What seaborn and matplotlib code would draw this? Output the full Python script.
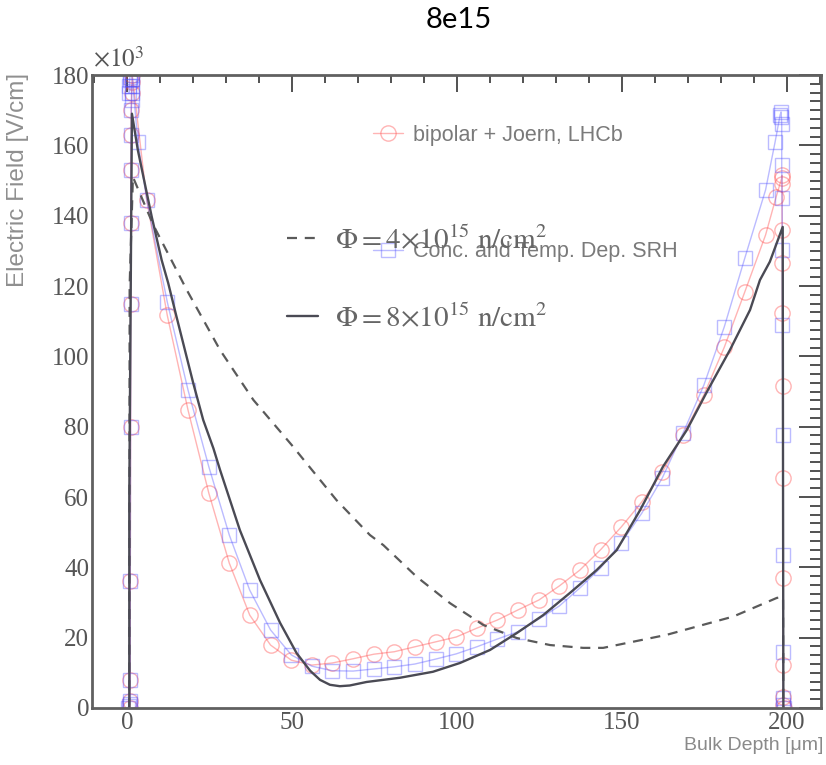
import matplotlib
matplotlib.use("Agg")
import matplotlib.pyplot as plt
from matplotlib.ticker import MultipleLocator, FixedLocator
from matplotlib.lines import Line2D
import seaborn as sns

# ---- data (x in um, E in 10^3 V/cm) ----
bipolar_x = [0.9, 0.9, 1.0, 1.0, 1.1, 1.1, 1.2, 1.2, 1.3, 1.3, 1.4, 1.5, 1.6,
             6.0, 12.2, 18.5, 24.8, 31.0, 37.2, 43.5, 49.8, 56.0, 62.2, 68.5,
             74.8, 81.0, 87.2, 93.5, 99.8, 106.0, 112.2, 118.5, 124.8, 131.0,
             137.2, 143.5, 149.8, 156.0, 162.2, 168.5, 174.8, 181.0, 187.2,
             193.5, 196.7, 198.4, 198.5, 198.5, 198.5, 198.6, 198.6, 198.7,
             198.7, 198.8, 198.8, 198.9, 198.9, 199.0]
bipolar_y = [0.0, 2.0, 8.0, 36.0, 80.0, 115.0, 138.0, 153.0, 163.0, 170.0, 175.0, 178.0, 180.0,
             144.4, 111.7, 84.7, 61.1, 41.2, 26.4, 17.9, 13.6, 12.2, 12.8, 14.0,
             15.3, 16.0, 17.4, 18.8, 20.2, 22.7, 25.0, 27.9, 30.7, 34.7,
             39.2, 45.0, 51.5, 58.6, 67.1, 77.6, 89.0, 102.6, 118.3,
             134.5, 145.3, 150.7, 151.5, 149.0, 136.0, 126.5, 112.3, 91.5,
             65.4, 37.0, 12.2, 3.0, 0.8, 0.0]

srh_x = [0.3, 0.5, 0.9, 0.9, 1.0, 1.0, 1.1, 1.1, 1.2, 1.2, 1.3, 1.3, 1.4, 1.4, 1.5,
         0.6, 0.7, 0.8, 0.9, 1.5, 1.6,
         3.3, 6.0, 12.2, 18.5, 24.8, 31.0, 37.2, 43.5, 49.8, 56.0, 62.2, 68.5,
         74.8, 81.0, 87.2, 93.5, 99.8, 106.0, 112.2, 118.5, 124.8, 131.0,
         137.2, 143.5, 149.8, 156.0, 162.2, 168.5, 174.8, 181.0, 187.2,
         193.5, 196.4, 197.9, 198.2, 198.3, 198.4, 198.4, 198.5, 198.6,
         198.6, 198.7, 198.8, 198.8, 198.9, 198.9, 199.0]
srh_y = [0.0, 0.5, 1.0, 2.0, 8.0, 36.0, 80.0, 115.0, 138.0, 153.0, 163.0, 170.0, 173.0, 175.0, 177.0,
         175.0, 177.0, 178.5, 179.5, 180.0, 179.0,
         161.0, 144.4, 115.5, 90.4, 68.6, 49.2, 33.5, 22.2, 15.1, 11.9, 10.6, 10.5,
         11.1, 11.7, 12.5, 13.9, 15.4, 17.4, 19.6, 21.7, 25.3, 29.0,
         34.1, 39.8, 47.0, 55.4, 65.4, 78.2, 91.8, 108.4, 127.9,
         147.3, 161.0, 168.6, 169.5, 168.0, 166.0, 154.4, 145.0, 130.2,
         108.9, 77.6, 43.5, 15.9, 2.8, 0.9, 0.0]

phi8_x = [0.7, 0.7, 1.5, 3.3, 7.5, 10.5, 12.5, 15.0, 20.1, 23.1, 26.2, 28.2,
          34.2, 40.3, 46.4, 51.4, 55.5, 58.5, 61.5, 64.5, 67.5, 72.6, 82.7,
          92.7, 100.9, 110.0, 118.1, 126.1, 134.2, 142.3, 148.4, 155.5, 162.4,
          169.6, 176.0, 182.7, 188.8, 191.8, 194.8, 198.7, 198.8, 198.9]
phi8_y = [0.0, 60.0, 169.0, 158.6, 139.7, 127.4, 120.8, 111.3, 92.3, 81.9, 73.8, 67.7,
          50.6, 36.4, 24.2, 15.6, 10.6, 8.0, 6.6, 6.2, 6.4, 7.4, 8.6,
          10.3, 12.8, 16.5, 21.3, 26.4, 32.7, 39.2, 44.9, 56.3, 68.6,
          79.0, 90.4, 101.8, 113.2, 121.7, 126.9, 136.8, 60.0, 0.0]

phi4_x = [0.7, 0.8, 1.8, 8.0, 18.1, 28.2, 38.3, 49.9, 54.4, 63.5, 73.6, 77.7,
          87.8, 97.9, 108.0, 118.1, 128.2, 138.2, 144.3, 163.5, 183.7, 196.9,
          198.8, 198.9]
phi4_y = [0.0, 120.0, 151.0, 137.3, 118.9, 101.8, 87.6, 74.8, 69.6, 59.1, 49.2, 46.3,
          37.3, 29.8, 23.6, 19.9, 17.9, 17.1, 17.1, 20.8, 26.0, 31.3,
          31.6, 0.0]

x_major = [0, 50, 100, 150, 200]
y_major = [0, 20, 40, 60, 80, 100, 120, 140, 160, 180]

label_bipolar = "bipolar + Joern, LHCb"
label_srh = "Conc. and Temp. Dep. SRH"
label_phi4 = r"$\Phi = 4{\times}10^{15}\ \mathrm{n/cm}^{2}$"
label_phi8 = r"$\Phi = 8{\times}10^{15}\ \mathrm{n/cm}^{2}$"

# ---- style ----
sns.set_style("white")
plt.rcParams["font.family"] = ["Liberation Sans", "DejaVu Sans"]
plt.rcParams["mathtext.fontset"] = "stix"

W, H = 826, 765
fig = plt.figure(figsize=(W / 100, H / 100), dpi=100)
ax = fig.add_axes([92 / W, 1 - 708 / H, (821 - 92) / W, (708 - 75) / H])

RED = "#ff4d4d"
BLUE = "#4d4dff"
DARK = "#4a4a54"

sns.lineplot(x=bipolar_x, y=bipolar_y, sort=False, estimator=None, ax=ax,
             color=RED, alpha=0.42, lw=1.0, marker="o", markersize=11,
             markerfacecolor="none", markeredgecolor=RED, markeredgewidth=1.0,
             legend=False)
sns.lineplot(x=srh_x, y=srh_y, sort=False, estimator=None, ax=ax,
             color=BLUE, alpha=0.38, lw=1.0, marker="s", markersize=10.5,
             markerfacecolor="none", markeredgecolor=BLUE, markeredgewidth=1.0,
             legend=False)
sns.lineplot(x=phi4_x, y=phi4_y, sort=False, estimator=None, ax=ax,
             color="#5a5a5a", lw=1.6, linestyle=(0, (4.5, 3.5)), legend=False)
sns.lineplot(x=phi8_x, y=phi8_y, sort=False, estimator=None, ax=ax,
             color=DARK, lw=1.7, legend=False)

ax.set_xlim(-10.6, 210.3)
ax.set_ylim(0, 180)
ax.set_xlabel("")
ax.set_ylabel("")

ax.xaxis.set_major_locator(FixedLocator(x_major))
ax.xaxis.set_minor_locator(MultipleLocator(10))
ax.yaxis.set_major_locator(FixedLocator(y_major))
ax.yaxis.set_minor_locator(MultipleLocator(2.5))
ax.set_xticklabels([str(v) for v in x_major])
ax.set_yticklabels([str(v) for v in y_major])

for s in ax.spines.values():
    s.set_color("#606060")
    s.set_linewidth(2.0)

ax.tick_params(which="both", direction="in", top=True, right=True,
               color="#333333", width=1.2)
ax.tick_params(axis="x", which="major", length=12, pad=3)
ax.tick_params(axis="x", which="minor", length=6)
ax.tick_params(axis="y", which="major", length=16, pad=2)
ax.tick_params(axis="y", which="minor", length=8)
for lab in ax.get_xticklabels() + ax.get_yticklabels():
    lab.set_fontfamily("Liberation Serif")
    lab.set_fontsize(18)
    lab.set_color("#555555")

# multiplier
fig.text(93 / W, 1 - 60 / H, r"$\times10^{3}$", fontsize=18, color="#555555",
         ha="left", va="center")

# axis titles
fig.text(18 / W, 1 - 180 / H, "Electric Field [V/cm]", rotation=90,
         fontsize=17.5, color="#8f8f8f", ha="center", va="center")
fig.text(823 / W, 1 - 745 / H, "Bulk Depth [\u03bcm]", fontsize=14,
         color="#8a8a8a", ha="right", va="center")

# title
fig.text(459 / W, 1 - 20 / H, "8e15", fontsize=21, color="black",
         ha="center", va="center", family=["Lato", "DejaVu Sans"])

# legends
h_bip = Line2D([], [], color=RED, alpha=0.42, lw=1.0, marker="o", markersize=11,
               markerfacecolor="none", markeredgewidth=1.0)
h_srh = Line2D([], [], color=BLUE, alpha=0.38, lw=1.0, marker="s", markersize=10.5,
               markerfacecolor="none", markeredgewidth=1.0)
leg1 = ax.legend([h_bip, h_srh], [label_bipolar, label_srh],
                 loc="center left", bbox_to_anchor=(373 / W, 1 - 193.5 / H),
                 bbox_transform=fig.transFigure, frameon=False, fontsize=15.5,
                 labelspacing=4.45, handlelength=1.4, handletextpad=0.45,
                 borderpad=0, borderaxespad=0)
for t in leg1.get_texts():
    t.set_color("#7a7a7a")
ax.add_artist(leg1)

h_p4 = Line2D([], [], color="#5a5a5a", lw=1.6, linestyle=(0, (4.5, 3.5)))
h_p8 = Line2D([], [], color=DARK, lw=1.7)
leg2 = ax.legend([h_p4, h_p8], [label_phi4, label_phi8],
                 loc="center left", bbox_to_anchor=(287 / W, 1 - 279 / H),
                 bbox_transform=fig.transFigure, frameon=False, fontsize=21,
                 labelspacing=1.7, handlelength=1.05, handletextpad=0.6,
                 borderpad=0, borderaxespad=0)
for t in leg2.get_texts():
    t.set_color("#666666")

fig.savefig("out.png", dpi=100)
